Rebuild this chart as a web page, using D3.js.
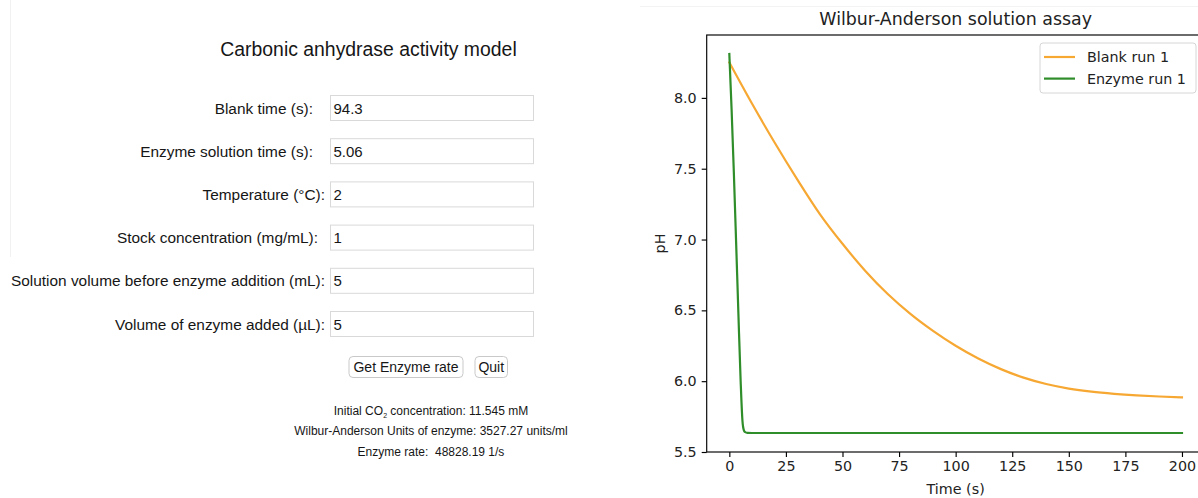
<!DOCTYPE html>
<html>
<head>
<meta charset="utf-8">
<script src="https://cdn.jsdelivr.net/npm/d3@7"></script>
<style>
  body { margin: 0; background: #fff; }
  svg { display: block; }
  .ui { font-family: "Liberation Sans", Arial, Helvetica, sans-serif; fill: #161616; }
  .mpl { font-family: "DejaVu Sans", sans-serif; fill: #222; }
  .axis text { font-family: "DejaVu Sans", sans-serif; font-size: 14.3px; fill: #222; }
  .axis line { stroke: #000; stroke-width: 1.15; }
  .axis path { display: none; }
</style>
</head>
<body>
<svg id="app"></svg>
<script>
// Page size.
const width = 1198;
const height = 498;

// Form panel text.
const panelTitle = "Carbonic anhydrase activity model";
const fieldLabels = [
  "Blank time (s):",
  "Enzyme solution time (s):",
  "Temperature (°C):",
  "Stock concentration (mg/mL):",
  "Solution volume before enzyme addition (mL):",
  "Volume of enzyme added (µL):"
];
const fieldValues = ["94.3", "5.06", "2", "1", "5", "5"];
const buttonLabels = ["Get Enzyme rate", "Quit"];
// "_2" marks the subscript in CO2.
const resultLines = [
  "Initial CO_2 concentration: 11.545 mM",
  "Wilbur-Anderson Units of enzyme: 3527.27 units/ml",
  "Enzyme rate:  48828.19 1/s"
];

// Plot text.
const chartTitle = "Wilbur-Anderson solution assay";
const xLabel = "Time (s)";
const yLabel = "pH";
const xTicks = [0, 25, 50, 75, 100, 125, 150, 175, 200];
const yTicks = [5.5, 6.0, 6.5, 7.0, 7.5, 8.0];
const seriesNames = ["Blank run 1", "Enzyme run 1"];
const seriesColors = ["#f6a833", "#2f8d2a"];

// Blank run, pH.
const blankTime = [0, 10, 20, 30, 40, 50, 60, 70, 80, 90, 100, 110, 120, 130, 140, 150, 160, 170, 180, 190, 200];
const blankPH = [8.25, 7.96, 7.685, 7.425, 7.18, 6.97, 6.78, 6.615, 6.475, 6.355, 6.25, 6.16, 6.085, 6.025, 5.98, 5.948, 5.926, 5.911, 5.90, 5.892, 5.886];

// Enzyme run, fast drop then plateau.
const enzymeTime = [0, 1, 2, 3, 4, 5, 5.8, 6.4, 7, 8, 10, 200];
const enzymePH = [8.31, 7.92, 7.47, 6.98, 6.48, 6.00, 5.72, 5.655, 5.64, 5.635, 5.634, 5.634];

const svg = d3.select("#app")
  .attr("width", width)
  .attr("height", height);

function translate(x, y) {
  return "translate(" + String(x) + "," + String(y) + ")";
}

drawPanel();
drawChart();

/*
 * Left side: the form with inputs, buttons and results.
 */
function drawPanel() {
  let panel = svg.append("g").attr("id", "panel").attr("class", "ui");

  // faint window frame edge
  panel.append("line")
    .attr("x1", 10.5).attr("x2", 10.5)
    .attr("y1", 0).attr("y2", 257)
    .style("stroke", "#f1f1f1");

  panel.append("text")
    .attr("x", 368.5)
    .attr("y", 56)
    .attr("text-anchor", "middle")
    .style("font-size", "19.4px")
    .text(panelTitle);

  const rowTop = 95;
  const rowStep = 43.2;
  const boxX = 330.5;
  const boxW = 203;
  const boxH = 25;
  const labelRight = [313, 313, 325, 318, 325, 325];

  let rows = panel.selectAll("g.row")
    .data(fieldLabels)
    .enter()
    .append("g")
    .attr("class", "row")
    .attr("transform", (d, i) => translate(0, rowTop + i * rowStep));

  rows.append("rect")
    .attr("x", boxX)
    .attr("y", 0.5)
    .attr("width", boxW)
    .attr("height", boxH)
    .style("fill", "#fff")
    .style("stroke", "#d9d9d9");

  rows.append("text")
    .attr("x", (d, i) => labelRight[i])
    .attr("y", boxH / 2 + 6)
    .attr("text-anchor", "end")
    .style("font-size", "15.4px")
    .text(d => d);

  rows.append("text")
    .attr("x", boxX + 3)
    .attr("y", boxH / 2 + 6)
    .style("font-size", "15px")
    .text((d, i) => fieldValues[i]);

  // buttons
  const buttonX = [349, 475];
  const buttonW = [114, 32.5];
  let buttons = panel.selectAll("g.button")
    .data(buttonLabels)
    .enter()
    .append("g")
    .attr("class", "button")
    .attr("transform", (d, i) => translate(buttonX[i], 356.5));

  buttons.append("rect")
    .attr("width", (d, i) => buttonW[i])
    .attr("height", 21)
    .attr("rx", 4)
    .style("fill", "#fff")
    .style("stroke", "#c9c9c9");

  buttons.append("text")
    .attr("x", (d, i) => buttonW[i] / 2)
    .attr("y", 15.5)
    .attr("text-anchor", "middle")
    .style("font-size", "14px")
    .text(d => d);

  // result lines, with a small subscript where marked
  let results = panel.selectAll("text.result")
    .data(resultLines)
    .enter()
    .append("text")
    .attr("class", "result")
    .attr("x", 431)
    .attr("y", (d, i) => 414.5 + i * 20.8)
    .attr("text-anchor", "middle")
    .style("font-size", "12px")
    .style("white-space", "pre");

  results.each(function(d) {
    let parts = d.split("_");
    let t = d3.select(this);
    parts.forEach((p, j) => {
      if (j == 0) {
        t.append("tspan").text(p);
      } else {
        t.append("tspan").attr("dy", 3).style("font-size", "7px").text(p[0]);
        t.append("tspan").attr("dy", -3).text(p.slice(1));
      }
    });
  });
}

/*
 * Right side: the pH curves.
 */
function drawChart() {
  const plotLeft = 706.7;
  const plotRight = 1204.6;
  const plotTop = 35;
  const plotBottom = 452;

  const xScale = d3.scaleLinear()
    .domain([-10, 210])
    .range([plotLeft, plotRight]);

  const yScale = d3.scaleLinear()
    .domain([5.5, 8.444])
    .range([plotBottom, plotTop]);

  let chart = svg.append("g").attr("id", "chart");

  // faint window edge across the top
  chart.append("line")
    .attr("x1", 640).attr("x2", width)
    .attr("y1", 6.5).attr("y2", 6.5)
    .style("stroke", "#f3f3f3");

  chart.append("text")
    .attr("class", "mpl")
    .attr("x", (plotLeft + plotRight) / 2)
    .attr("y", 25)
    .attr("text-anchor", "middle")
    .style("font-size", "17.4px")
    .text(chartTitle);

  // axes
  let xAxis = d3.axisBottom(xScale)
    .tickValues(xTicks)
    .tickSize(5)
    .tickPadding(4)
    .tickFormat(d3.format("d"));
  let yAxis = d3.axisLeft(yScale)
    .tickValues(yTicks)
    .tickSize(5)
    .tickPadding(5)
    .tickFormat(d3.format(".1f"));

  chart.append("g")
    .attr("class", "axis")
    .attr("transform", translate(0, plotBottom))
    .call(xAxis);

  chart.append("g")
    .attr("class", "axis")
    .attr("transform", translate(plotLeft, 0))
    .call(yAxis);

  // lines
  let series = [
    blankTime.map((t, i) => [t, blankPH[i]]),
    enzymeTime.map((t, i) => [t, enzymePH[i]])
  ];

  let line = d3.line()
    .x(d => xScale(d[0]))
    .y(d => yScale(d[1]))
    .curve(d3.curveMonotoneX);

  chart.append("g")
    .selectAll("path")
    .data(series)
    .enter()
    .append("path")
    .attr("d", line)
    .style("fill", "none")
    .style("stroke", (d, i) => seriesColors[i])
    .style("stroke-width", 2.2)
    .style("stroke-linejoin", "round")
    .style("stroke-linecap", "square");

  // spines
  chart.append("rect")
    .attr("x", plotLeft)
    .attr("y", plotTop)
    .attr("width", plotRight - plotLeft)
    .attr("height", plotBottom - plotTop)
    .style("fill", "none")
    .style("stroke", "#000")
    .style("stroke-width", 1.15);

  // axis titles
  chart.append("text")
    .attr("class", "mpl")
    .attr("x", (plotLeft + plotRight) / 2)
    .attr("y", 494)
    .attr("text-anchor", "middle")
    .style("font-size", "14.3px")
    .text(xLabel);

  chart.append("g")
    .attr("transform", translate(665, (plotTop + plotBottom) / 2))
    .append("text")
    .attr("class", "mpl")
    .attr("text-anchor", "middle")
    .attr("transform", "rotate(-90)")
    .style("font-size", "14.3px")
    .text(yLabel);

  // legend
  let legend = chart.append("g").attr("transform", translate(1040, 43));
  legend.append("rect")
    .attr("width", 156)
    .attr("height", 50)
    .attr("rx", 3)
    .style("fill", "#fff")
    .style("fill-opacity", 0.8)
    .style("stroke", "#d6d6d6");

  let items = legend.selectAll("g.item")
    .data(seriesNames)
    .enter()
    .append("g")
    .attr("class", "item")
    .attr("transform", (d, i) => translate(0, 14 + i * 21.6));

  items.append("line")
    .attr("x1", 4).attr("x2", 35)
    .style("stroke", (d, i) => seriesColors[i])
    .style("stroke-width", 2.2);

  items.append("text")
    .attr("class", "mpl")
    .attr("x", 47)
    .attr("y", 5.2)
    .style("font-size", "14.3px")
    .text(d => d);
}
</script>
</body>
</html>
